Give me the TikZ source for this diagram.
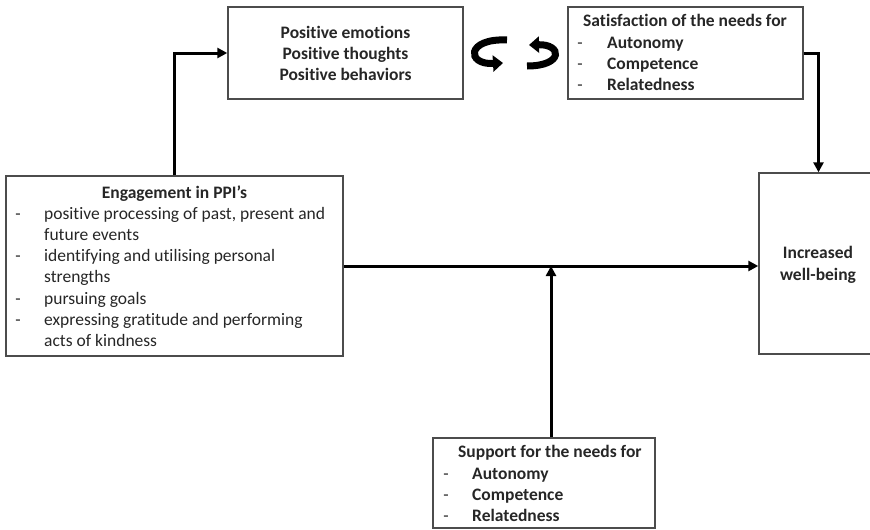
\documentclass[tikz,border=0pt]{standalone}
\usepackage{fontspec}
\setmainfont[Ligatures={NoCommon,NoContextual},RawFeature={-liga;-calt;-dlig}]{Carlito}
\usetikzlibrary{arrows.meta}
\begin{document}
\begin{tikzpicture}[x=1pt,y=-1pt,
  box/.style={draw=black!70, line width=1.4pt, inner sep=0pt},
  conn/.style={line width=3pt, -{Triangle[length=10pt,width=10pt]}},
  txt/.style={inner sep=0pt, text=black!85, font=\fontsize{17.5}{21}\selectfont},
  btxt/.style={txt, font=\fontsize{17.5}{21}\selectfont\bfseries},
  cyc/.style={line width=7pt, -{Triangle[length=10pt,width=16pt]}}]
\useasboundingbox (0,0) rectangle (870,530);

% boxes
\node[box, minimum width=235pt, minimum height=92pt] (pos) at (345.5,53) {};
\node[box, minimum width=235pt, minimum height=92pt] (sat) at (685.5,53) {};
\node[box, minimum width=119pt, minimum height=181pt] (inc) at (818.5,263.5) {};
\node[box, minimum width=337pt, minimum height=180pt] (eng) at (174.5,266) {};
\node[box, minimum width=222pt, minimum height=90pt] (sup) at (544,483) {};

% texts: positive box
\node[btxt, anchor=base] (p1) at (345.5,38) {Positive emotions};
\node[btxt, anchor=base] (p2) at (345.5,59) {Positive thoughts};
\node[btxt, anchor=base] (p3) at (345.5,80) {Positive behaviors};

% satisfaction box
\node[btxt, anchor=base west] (s0) at (583,27) {Satisfaction of the needs for};
\foreach \t [count=\i] in {Autonomy,Competence,Relatedness}{
  \node[txt, anchor=base] (sd\i) at (580,27+21.3*\i) {-};
  \node[btxt, anchor=base west] (s\i) at (607,27+21.3*\i) {\t};
}

% increased
\node[btxt, anchor=base] (i1) at (818,258) {Increased};
\node[btxt, anchor=base] (i2) at (818,280) {well-being};

% engagement
\node[btxt, anchor=base] (e0) at (174.5,198) {Engagement in PPI’s};
\foreach \t/\d [count=\i] in {
  positive processing of past{,} present and/-,
  future events/,
  identifying and utilising personal/-,
  strengths/,
  pursuing goals/-,
  expressing gratitude and performing/-,
  acts of kindness/}{
  \node[txt, anchor=base] (ed\i) at (18,198+21.2*\i) {\d};
  \node[txt, anchor=base west] (e\i) at (44,198+21.2*\i) {\t};
}

% support
\node[btxt, anchor=base west] (u0) at (458,457) {Support for the needs for};
\foreach \t [count=\i] in {Autonomy,Competence,Relatedness}{
  \node[txt, anchor=base] (ud\i) at (446,458+21.3*\i) {-};
  \node[btxt, anchor=base west] (u\i) at (472,458+21.3*\i) {\t};
}

% connectors
\draw[conn] (eng.north) |- (pos.west);
\draw[conn] (sat.east) -| (inc.north);
\draw[conn] (eng.east) -- (eng.east -| inc.west);
\coordinate (j) at (551,266);
\draw[conn] (sup.north -| j) -- (j);

% cycle arrows
\coordinate (ca) at (507,40);
\coordinate (cb) at (503,63);
\coordinate (cc) at (527,66);
\coordinate (cd) at (529,45);
\draw[cyc] (ca) .. controls (466,38) and (466,65) .. (cb);
\draw[cyc] (cc) .. controls (564,66) and (562,44) .. (cd);
\end{tikzpicture}
\end{document}
